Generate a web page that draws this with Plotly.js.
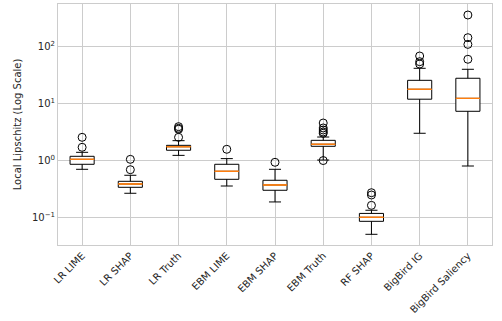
<!DOCTYPE html>
<html><head><meta charset="utf-8">
<script src="https://cdn.plot.ly/plotly-3.0.1.min.js"></script>
<style>html,body{margin:0;padding:0;background:#fff}#chart{width:502px;height:321px}</style>
</head><body><div id="chart"></div>
<script>
const categories = ["LR LIME","LR SHAP","LR Truth","EBM LIME","EBM SHAP","EBM Truth","RF SHAP","BigBird IG","BigBird Saliency"];
const q1Values     = [0.851, 0.336, 1.50, 0.464, 0.298, 1.76, 0.085, 11.8, 7.24];
const medianValues = [1.04, 0.384, 1.73, 0.641, 0.369, 1.91, 0.100, 17.6, 12.2];
const q3Values     = [1.175, 0.428, 1.83, 0.851, 0.446, 2.24, 0.117, 25.3, 27.5];
const lowerWhisker = [0.695, 0.264, 1.22, 0.354, 0.186, 1.01, 0.0503, 2.98, 0.794];
const upperWhisker = [1.38, 0.546, 2.21, 1.07, 0.695, 2.56, 0.133, 41.1, 39.5];
const outliers = [
  [1.69, 2.53],
  [0.684, 1.04],
  [2.53, 3.50, 3.64, 3.89],
  [1.56],
  [0.922],
  [0.99, 2.98, 3.14, 3.40, 3.69, 4.51],
  [0.162, 0.246, 0.270],
  [48.9, 53.7, 67.6],
  [59.2, 108, 141.6, 354]
];
const yTickVals = [0.1, 1, 10, 100];
const yTickText = ["10<sup>\u22121</sup>", "10<sup>0</sup>", "10<sup>1</sup>", "10<sup>2</sup>"];

const outX = [], outY = [];
outliers.forEach((arr, i) => arr.forEach(v => { outX.push(categories[i]); outY.push(v); }));

const traces = [
  {
    type: 'box', x: categories, q1: q1Values, median: medianValues, q3: q3Values,
    lowerfence: lowerWhisker, upperfence: upperWhisker,
    width: 0.5, whiskerwidth: 0.5, boxpoints: false,
    line: {color: '#000000', width: 1}, fillcolor: '#ffffff',
    hoverinfo: 'skip', showlegend: false
  },
  {
    type: 'box', x: categories, q1: medianValues, median: medianValues, q3: medianValues,
    lowerfence: medianValues, upperfence: medianValues,
    width: 0.5, whiskerwidth: 0, boxpoints: false,
    line: {color: '#ff7f0e', width: 1}, fillcolor: 'rgba(0,0,0,0)',
    hoverinfo: 'skip', showlegend: false
  },
  {
    type: 'scatter', mode: 'markers', x: outX, y: outY,
    marker: {symbol: 'circle-open', size: 8, color: '#000000', line: {width: 1, color: '#000000'}},
    hoverinfo: 'skip', showlegend: false
  }
];

const layout = {
  width: 502, height: 321,
  margin: {l: 58, r: 10, t: 4, b: 76},
  paper_bgcolor: '#ffffff', plot_bgcolor: '#ffffff',
  font: {family: 'DejaVu Sans', size: 10, color: '#262626'},
  boxmode: 'overlay',
  showlegend: false,
  xaxis: {
    type: 'category', range: [-0.5, 8.5],
    tickangle: -45, ticks: '', showgrid: true, gridcolor: '#cccccc', gridwidth: 1,
    showline: true, linecolor: '#cccccc', linewidth: 1, mirror: true, zeroline: false,
    tickfont: {family: 'DejaVu Sans', size: 10, color: '#262626'}
  },
  yaxis: {
    type: 'log', range: [-1.486, 2.742],
    tickvals: yTickVals, ticktext: yTickText, ticks: '',
    showgrid: true, gridcolor: '#cccccc', gridwidth: 1,
    showline: true, linecolor: '#cccccc', linewidth: 1, mirror: true, zeroline: false,
    title: {text: 'Local Lipschitz (Log Scale)', font: {family: 'DejaVu Sans', size: 10, color: '#262626'}, standoff: 8},
    tickfont: {family: 'DejaVu Sans', size: 10, color: '#262626'}
  }
};

Plotly.newPlot('chart', traces, layout, {staticPlot: true, displayModeBar: false});
</script>
</body></html>
